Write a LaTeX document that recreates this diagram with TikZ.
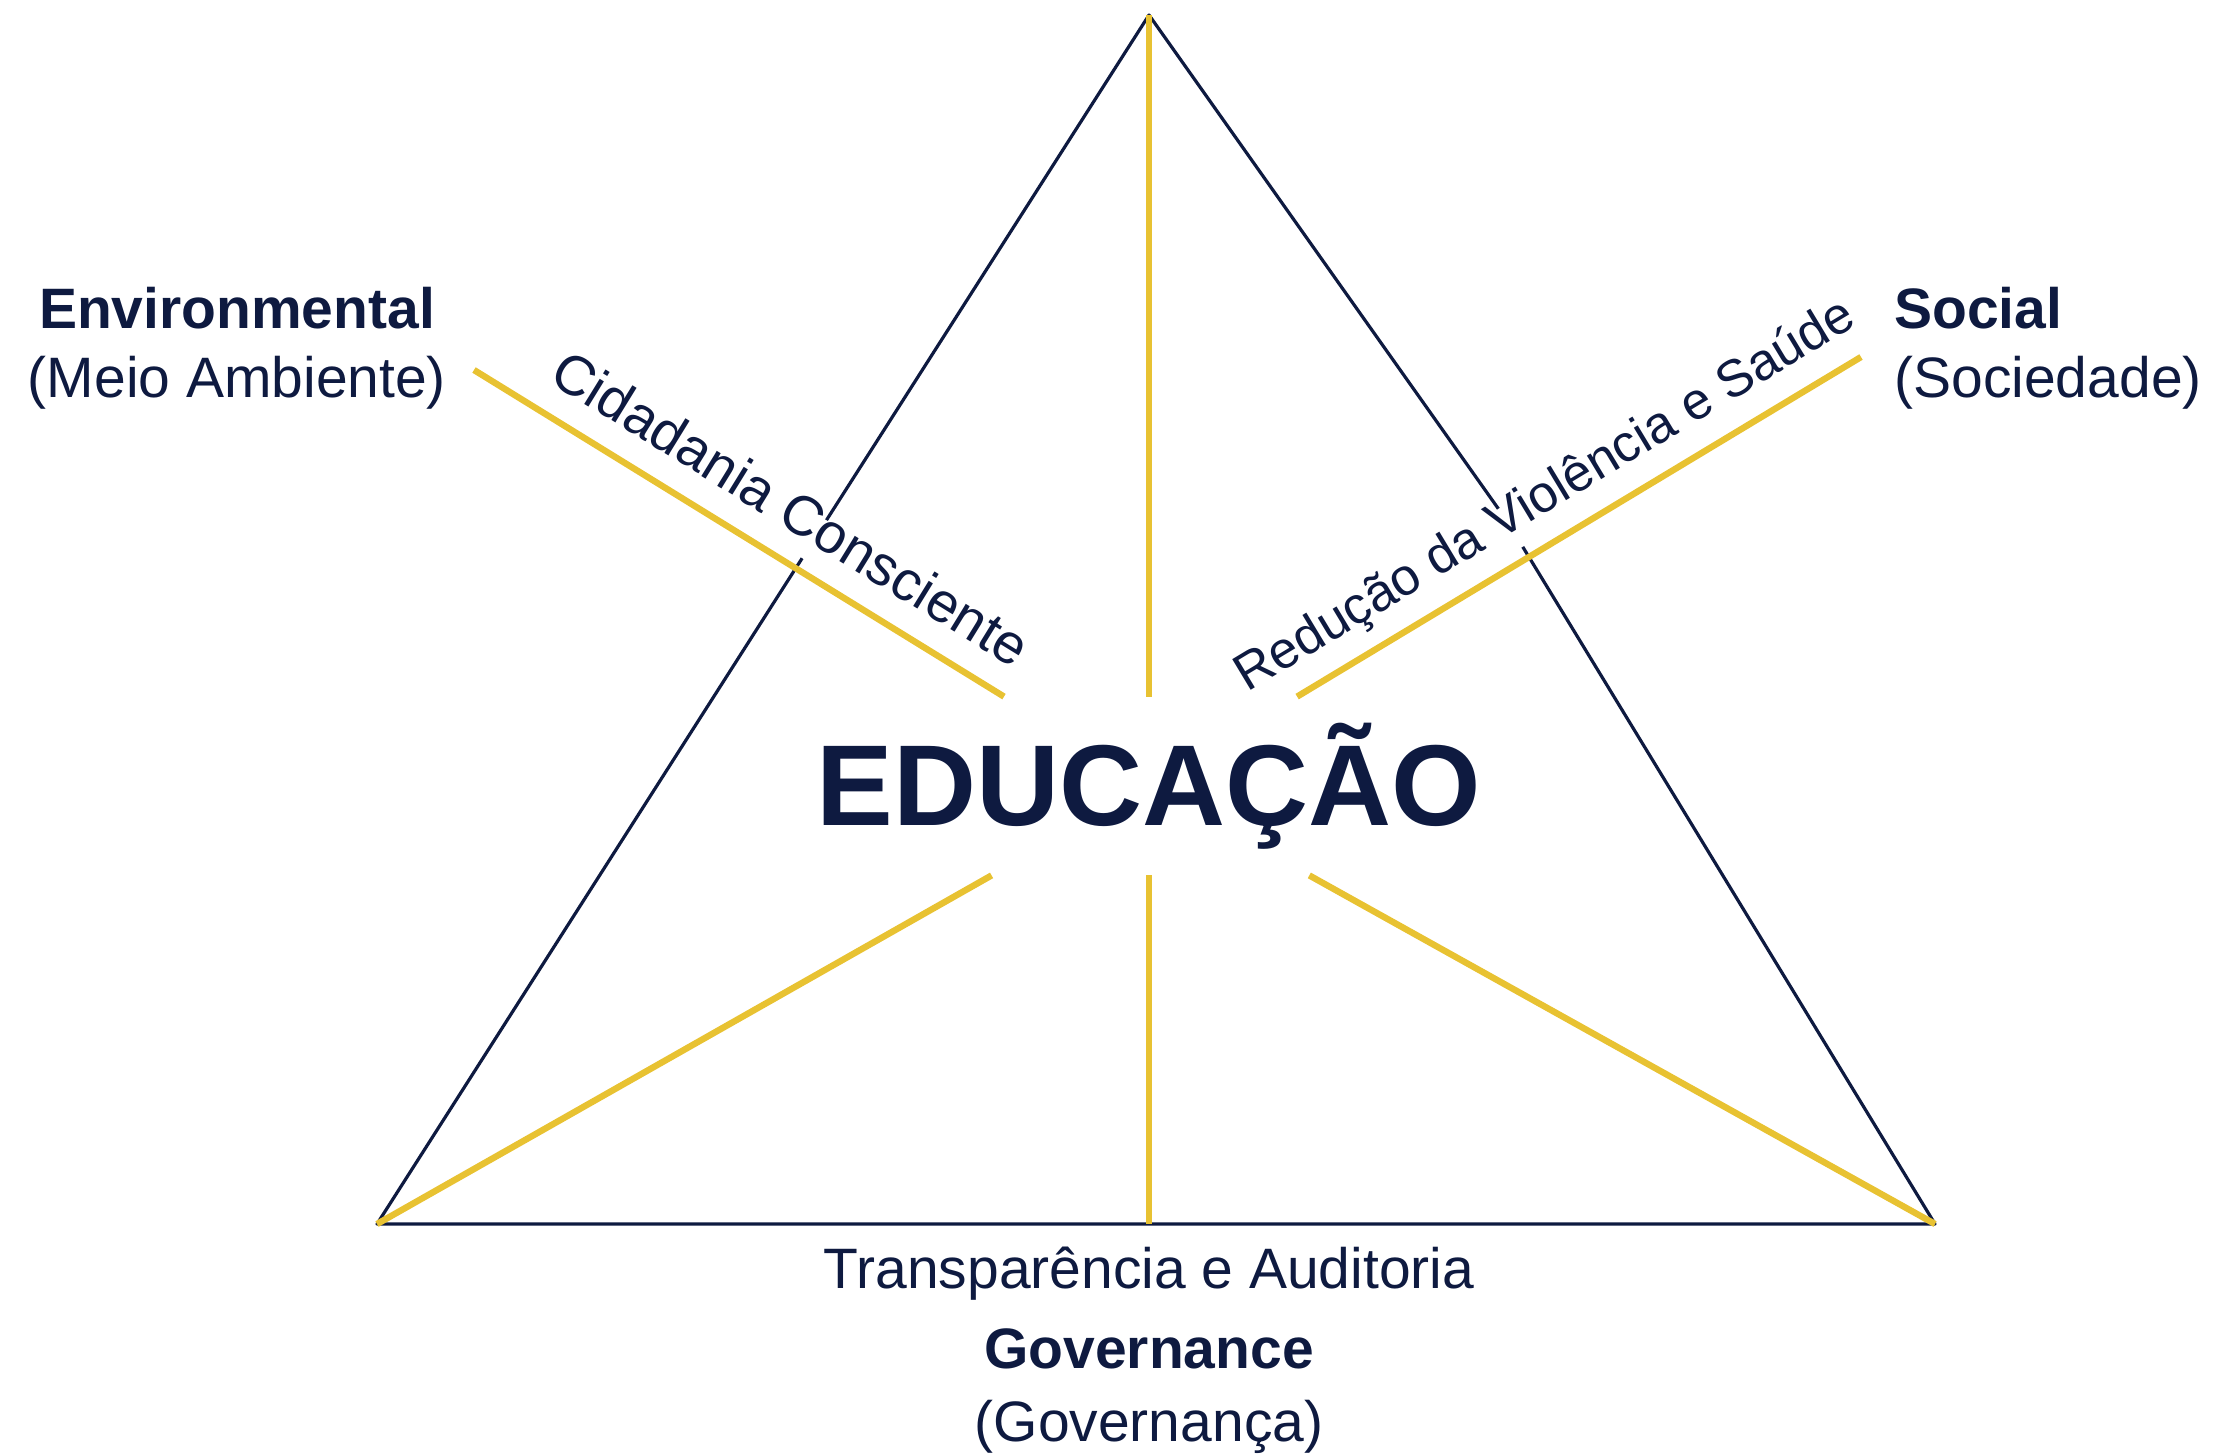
\documentclass[tikz,border=0pt]{standalone}
\usepackage{fontspec}
\setmainfont{Liberation Sans}
\usepackage{tikz}
\definecolor{navy}{HTML}{0E1A40}
\definecolor{gold}{HTML}{E8C232}

\begin{document}
\begin{tikzpicture}[x=0.5pt,y=-0.5pt,
  tri/.style={draw=navy,line width=1.6pt,line join=round},
  ray/.style={draw=gold,line width=3.2pt},
  head/.style={text=navy,inner sep=0pt,anchor=base,font=\fontsize{28.5}{32}\selectfont\bfseries},
  sub/.style={text=navy,inner sep=0pt,anchor=base,font=\fontsize{28.5}{32}\selectfont},
  tag/.style={text=navy,fill=white,sloped,inner xsep=2pt,inner ysep=6.5pt,text height=0.75em,text depth=0.2em}]
\useasboundingbox (0,0) rectangle (2219,1455);
\coordinate (top) at (1149,15);
\coordinate (bl) at (377,1224);
\coordinate (br) at (1935,1224);
\coordinate (bm) at (1149,1224);
\coordinate (rk) at (1507,521);
\coordinate (envEnd) at (474,370);
\coordinate (socEnd) at (1861,357);
\node[text=navy,inner sep=0pt,minimum height=89pt,font=\fontsize{57.5}{60}\selectfont\bfseries] (edu) at (1149,786) {EDUCAÇÃO};
\node[head] (env) at (237,328) {Environmental};
\node[sub] (envpt) at (237,397) {(Meio Ambiente)};
\node[head,anchor=base west] (soc) at (1894,328) {Social};
\node[sub,anchor=base west] (socpt) at (1894,397) {(Sociedade)};
\node[sub] (transp) at (1149,1288) {Transparência e Auditoria};
\node[head] (gov) at (1149,1368) {Governance};
\node[sub] (govpt) at (1149,1441) {(Governança)};
\draw[tri] (top) -- (bl) -- (br) -- (rk) -- cycle;
\draw[ray] (edu) -- (top);
\draw[ray] (edu) -- (bl);
\draw[ray] (edu) -- (br);
\draw[ray] (edu) -- (bm);
\draw[ray] (envEnd) -- (edu) node[tag,pos=0.55,above=4.4pt,font=\fontsize{28}{32}\selectfont] (cid) {Cidadania Consciente};
\draw[ray] (edu) -- (socEnd) node[tag,pos=0.48,above=4.4pt,font=\fontsize{26}{30}\selectfont] (red) {Redução da Violência e Saúde};
\end{tikzpicture}
\end{document}
